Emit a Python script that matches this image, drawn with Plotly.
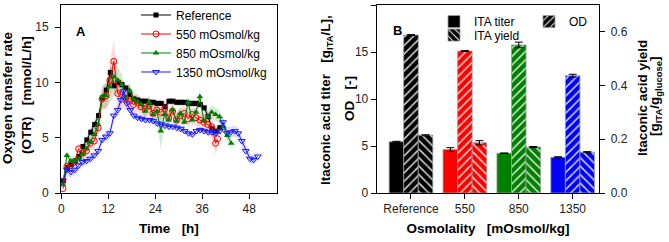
import plotly.graph_objects as go

# ---------------- Panel A data: OTR over time ----------------
t_ref = [0.5, 1.5, 2.5, 3.5, 4.5, 5.5, 6.5, 7.5, 8.5, 9.5, 10.5, 11.5, 12.5, 13.5, 14.5, 15.5, 16.5, 17.5, 18.5, 19.5,
         20.5, 21.5, 22.5, 23.5, 24.5, 25.5, 26.5, 27.5, 28.5, 29.5, 30.5, 31.5, 32.5, 33.5, 34.5, 35.5, 36.5, 37.5,
         38.5, 39.5, 40.5]
otr_ref = [1.1, 2.3, 2.6, 2.9, 3.3, 4.2, 4.8, 5.5, 6.2, 7.0, 8.6, 9.3, 10.9, 9.7, 10.0, 9.8, 9.5, 8.9, 8.5, 8.4,
           8.3, 8.3, 8.2, 8.2, 8.1, 8.1, 7.8, 8.3, 8.3, 8.2, 8.2, 8.2, 8.1, 8.1, 8.1, 8.0, 7.7, 6.9, 5.8, 5.6, 5.9]
sd_ref = [0.3, 0.3, 0.3, 0.3, 0.3, 0.3, 0.3, 0.3, 0.4, 0.4, 0.5, 0.5, 0.6, 0.5, 0.4, 0.4, 0.3, 0.3, 0.3, 0.3,
          0.3, 0.3, 0.3, 0.3, 0.3, 0.3, 0.3, 0.3, 0.3, 0.3, 0.3, 0.3, 0.3, 0.3, 0.3, 0.3, 0.3, 0.4, 0.4, 0.4, 0.4]

t_550 = [0.4, 1.4, 2.4, 3.4, 4.4, 5.4, 6.4, 7.4, 8.4, 9.4, 10.4, 11.4, 12.4, 13.4, 14.4, 15.4, 16.4, 17.4, 18.4, 19.4,
         20.4, 21.4, 22.4, 23.4, 24.4, 25.4, 26.4, 27.4, 28.4, 29.4, 30.4, 31.4, 32.4, 33.4, 34.4, 35.4, 36.4, 37.4,
         38.4, 39.4, 39.9]
otr_550 = [0.4, 2.4, 2.5, 2.8, 4.0, 3.6, 3.8, 4.5, 4.7, 5.9, 8.5, 8.8, 10.2, 11.9, 9.0, 8.9, 8.6, 8.3, 8.0, 8.2,
           7.8, 7.6, 7.9, 7.2, 7.5, 7.3, 7.6, 6.8, 7.4, 6.6, 7.0, 7.2, 6.7, 7.1, 6.8, 6.6, 6.4, 6.2, 6.0, 4.5, 4.9]
sd_550 = [0.3, 0.4, 0.4, 0.4, 0.5, 0.5, 0.5, 0.6, 0.7, 0.8, 1.0, 1.2, 1.6, 1.9, 1.4, 1.2, 1.0, 0.9, 0.8, 0.8,
          0.8, 0.8, 0.8, 0.7, 0.7, 0.7, 0.7, 0.7, 0.7, 0.7, 0.7, 0.7, 0.7, 0.7, 0.7, 0.8, 0.8, 0.9, 1.0, 1.0, 1.0]

t_850 = [0.4, 1.4, 2.4, 3.4, 4.4, 5.4, 6.4, 7.4, 8.4, 9.4, 10.4, 11.4, 12.4, 13.4, 14.4, 15.4, 16.4, 17.4, 18.4, 19.4,
         20.4, 21.4, 22.4, 23.4, 24.4, 25.4, 26.4, 27.4, 28.4, 29.4, 30.4, 31.4, 32.4, 33.4, 34.4, 35.4, 36.4, 37.4,
         38.4, 39.4, 40.4, 41.4, 42.4, 43.4]
otr_850 = [0.8, 3.4, 2.9, 2.9, 3.1, 3.5, 4.0, 4.6, 5.3, 6.2, 8.7, 8.8, 9.6, 10.5, 10.2, 9.8, 8.6, 9.3, 8.5, 8.2,
           8.0, 7.4, 8.2, 7.1, 7.4, 5.6, 7.1, 6.6, 7.5, 6.5, 7.2, 6.4, 8.2, 6.6, 7.3, 8.7, 6.5, 6.9, 7.3, 7.1,
           6.9, 6.0, 5.2, 4.5]
sd_850 = [0.3, 0.4, 0.4, 0.4, 0.4, 0.4, 0.5, 0.5, 0.6, 0.8, 1.0, 1.2, 1.5, 1.8, 1.2, 1.0, 0.8, 0.7, 0.6, 0.6,
          0.6, 0.6, 0.6, 0.6, 0.8, 1.6, 0.8, 0.6, 0.6, 0.6, 0.6, 0.6, 0.6, 0.6, 0.6, 0.6, 0.6, 0.6, 0.6, 0.6,
          0.6, 0.6, 0.5, 0.5]

t_1350 = [0.4, 1.4, 2.4, 3.4, 4.4, 5.4, 6.4, 7.4, 8.4, 9.4, 10.4, 11.4, 12.4, 13.4, 14.4, 15.2, 15.9, 16.7, 17.6,
          18.5, 19.5, 20.5, 21.5, 22.5, 23.5, 24.5, 25.5, 26.5, 27.5, 28.5, 29.5, 30.5, 31.5, 32.5, 33.5, 34.5,
          35.5, 36.5, 37.5, 38.5, 39.5, 40.5, 41.3, 42.3, 43.3, 44.3, 45.2, 46.1, 47.1, 48.2, 49.1, 50.2]
otr_1350 = [1.1, 2.1, 1.9, 2.1, 2.5, 2.8, 2.9, 3.1, 3.4, 3.8, 4.8, 5.1, 5.4, 7.0, 7.5, 8.4, 9.2, 8.1, 7.5,
            7.0, 6.8, 6.7, 6.6, 6.6, 6.5, 6.3, 6.2, 6.1, 6.0, 6.0, 5.9, 5.8, 5.6, 5.4, 5.3, 5.6, 5.7, 5.6, 5.5,
            5.5, 5.4, 5.6, 6.4, 5.4, 5.5, 5.6, 5.4, 4.7, 3.8, 3.1, 3.0, 3.3]
sd_1350 = [0.4, 0.5, 0.5, 0.5, 0.5, 0.4, 0.4, 0.4, 0.4, 0.4, 0.4, 0.4, 0.5, 0.5, 0.5, 0.5, 0.5, 0.4, 0.3,
           0.3, 0.3, 0.3, 0.3, 0.3, 0.3, 0.3, 0.3, 0.3, 0.3, 0.3, 0.3, 0.3, 0.3, 0.3, 0.3, 0.3, 0.3, 0.3, 0.3,
           0.3, 0.3, 0.4, 0.6, 0.5, 0.5, 0.5, 0.5, 0.5, 0.5, 0.5, 0.4, 0.4]

# ---------------- Panel B data ----------------
osm_labels = ["Reference", "550", "850", "1350"]
ita_titer = [5.45, 4.62, 4.23, 3.80]
ita_titer_err = [0.05, 0.20, 0.03, 0.06]
od = [16.8, 15.1, 15.75, 12.48]
od_err = [0.05, 0.05, 0.30, 0.15]
ita_yield = [0.215, 0.187, 0.171, 0.152]
ita_yield_err = [0.002, 0.008, 0.002, 0.002]
bar_colors = ["#000000", "#FF0000", "#008000", "#0000FF"]

FONT = "Arial, Liberation Sans, sans-serif"
NB = "\u00a0"
W, H = 669, 242
PT, PB = 5, 193  # plot area top/bottom in px


def px(x):
    return x / W


def py(y):
    return (PB - y) / (PB - PT)


fig = go.Figure()

series = [
    ("Reference", t_ref, otr_ref, sd_ref, "#000000", "rgba(60,30,30,0.22)",
     dict(symbol="square", size=5, color="#000000")),
    ("550 mOsmol/kg", t_550, otr_550, sd_550, "#FF0000", "rgba(255,60,60,0.20)",
     dict(symbol="circle-open", size=6, color="#FF0000", line=dict(width=1))),
    ("850 mOsmol/kg", t_850, otr_850, sd_850, "#008000", "rgba(0,140,0,0.18)",
     dict(symbol="triangle-up", size=6, color="#008000")),
    ("1350 mOsmol/kg", t_1350, otr_1350, sd_1350, "#1a1aff", "rgba(60,60,255,0.18)",
     dict(symbol="triangle-down-open", size=6, color="#1a1aff", line=dict(width=1))),
]

for name, t, v, sd, col, fcol, mk in series:
    upper = [a + b for a, b in zip(v, sd)]
    lower = [a - b for a, b in zip(v, sd)]
    fig.add_trace(go.Scatter(
        x=list(t) + list(t)[::-1], y=upper + lower[::-1], fill="toself",
        fillcolor=fcol, line=dict(width=0), mode="lines", hoverinfo="skip",
        showlegend=False, xaxis="x", yaxis="y"))

for name, t, v, sd, col, fcol, mk in series:
    fig.add_trace(go.Scatter(
        x=t, y=v, mode="lines+markers", name=name,
        line=dict(color=col, width=1), marker=mk,
        xaxis="x", yaxis="y", legend="legend"))

xpos = list(range(len(osm_labels)))
bw = 0.27
fig.add_trace(go.Bar(
    x=xpos, y=ita_titer, name="ITA titer", width=bw, offset=-1.5 * bw,
    marker=dict(color=bar_colors, line=dict(color="#9a9a9a", width=0.8)),
    error_y=dict(type="data", array=ita_titer_err, color="black", thickness=1, width=4),
    xaxis="x2", yaxis="y2", legend="legend2"))
fig.add_trace(go.Bar(
    x=xpos, y=od, name="OD", width=bw, offset=-0.5 * bw,
    marker=dict(color=bar_colors, line=dict(color="#9a9a9a", width=0.8),
                pattern=dict(shape="/", fgcolor="#ffffff", bgcolor=bar_colors, size=6,
                             solidity=0.25, fillmode="overlay", fgopacity=0.85)),
    error_y=dict(type="data", array=od_err, color="black", thickness=1, width=4),
    xaxis="x2", yaxis="y2", legend="legend2"))
fig.add_trace(go.Bar(
    x=xpos, y=ita_yield, name="ITA yield", width=bw, offset=0.5 * bw,
    marker=dict(color=bar_colors, line=dict(color="#9a9a9a", width=0.8),
                pattern=dict(shape="\\", fgcolor="#ffffff", bgcolor=bar_colors, size=6,
                             solidity=0.25, fillmode="overlay", fgopacity=0.85)),
    error_y=dict(type="data", array=ita_yield_err, color="black", thickness=1, width=4),
    xaxis="x2", yaxis="y3", legend="legend3"))

tickfont = dict(family=FONT, size=12, color="#222")
titlefont = dict(family=FONT, size=13.5, color="black", weight="bold")
axcommon = dict(showgrid=False, zeroline=False, showline=True, linecolor="black", linewidth=1,
                ticks="outside", ticklen=5, tickcolor="black", tickfont=tickfont, automargin=False)

title_lines = [
    # text, x px (center), y px (center)
    ("Oxygen transfer rate", 7, 98),
    ("(OTR)" + NB * 3 + "[mmol/L/h]", 26, 95),
    ("Itaconic acid titer" + NB * 3 + "[g<sub>ITA</sub>/L],", 327, 100),
    ("OD" + NB * 3 + "[-]", 349, 99),
    ("Itaconic acid yield", 642, 98),
    ("[g<sub>ITA</sub>/g<sub>glucose</sub>]", 655, 97),
]
annotations = [
    dict(text=txt, x=px(xc), y=py(yc), xref="paper", yref="paper", textangle=-90,
         xanchor="center", yanchor="middle", showarrow=False,
         font=dict(family=FONT, size=13.5, color="black", weight="bold"))
    for txt, xc, yc in title_lines
]
annotations += [
    dict(text="<b>A</b>", x=px(74), y=py(22), xref="paper", yref="paper",
         showarrow=False, font=dict(family=FONT, size=13, color="black")),
    dict(text="<b>B</b>", x=px(397.5), y=py(21), xref="paper", yref="paper",
         showarrow=False, font=dict(family=FONT, size=13, color="black")),
]

fig.update_layout(
    width=W, height=H,
    margin=dict(l=0, r=0, t=PT, b=H - PB, autoexpand=False),
    paper_bgcolor="white", plot_bgcolor="white",
    barmode="overlay",
    font=dict(family=FONT, size=12, color="black"),
    xaxis=dict(domain=[px(61), px(277)], range=[-0.1, 55.1], tickvals=[0, 12, 24, 36, 48],
               mirror=True, title=dict(text="Time" + NB * 3 + "[h]", font=titlefont, standoff=8),
               anchor="y", **axcommon),
    yaxis=dict(domain=[0, 1], range=[0, 17], tickvals=[0, 5, 10, 15], mirror=True,
               ticklabelstandoff=4, anchor="x", **axcommon),
    xaxis2=dict(domain=[px(376.7), px(599.3)], range=[-0.636, 3.494], tickvals=xpos,
                ticktext=osm_labels, mirror=True,
                title=dict(text="Osmolality" + NB * 3 + "[mOsmol/kg]", font=titlefont, standoff=8),
                anchor="y2", **axcommon),
    yaxis2=dict(domain=[0, 1], range=[0, 20], tickvals=[0, 5, 10, 15, 20],
                anchor="x2", **axcommon),
    yaxis3=dict(range=[0, 0.7], tickvals=[0, 0.2, 0.4, 0.6], tickformat=".1f", overlaying="y2",
                side="right", anchor="x2", ticklabelstandoff=3, **axcommon),
    legend=dict(x=px(136), y=1.024, yanchor="top", xanchor="left",
                bgcolor="rgba(0,0,0,0)", font=dict(family=FONT, size=12, color="black"),
                tracegroupgap=0, itemwidth=30),
    legend2=dict(orientation="h", x=px(434), y=0.989, yanchor="top", xanchor="left",
                 bgcolor="rgba(0,0,0,0)", font=dict(family=FONT, size=12, color="black"),
                 entrywidth=50, entrywidthmode="pixels", itemwidth=30),
    legend3=dict(orientation="h", x=px(434), y=0.917, yanchor="top", xanchor="left",
                 bgcolor="rgba(0,0,0,0)", font=dict(family=FONT, size=12, color="black"), itemwidth=30),
    annotations=annotations,
)

fig.write_html("out.html", config={"displayModeBar": False},
               post_script="document.body.style.margin='0px';")
